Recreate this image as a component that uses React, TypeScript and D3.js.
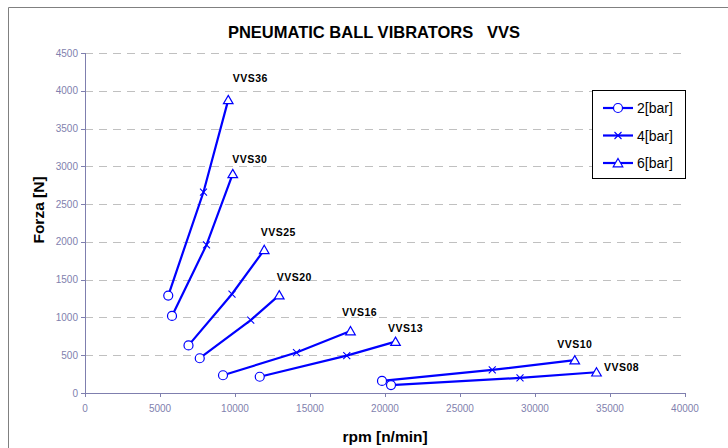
import { useEffect } from "react";
import * as d3 from "d3";

const models = ["VVS36", "VVS30", "VVS25", "VVS20", "VVS16", "VVS13", "VVS10", "VVS08"];
const rpm2 = [5550, 5800, 6900, 7650, 9200, 11650, 19800, 20400];
const force2 = [1290, 1020, 630, 460, 235, 215, 160, 105];
const rpm4 = [7900, 8100, 9800, 11050, 14100, 17450, 27150, 29000];
const force4 = [2660, 1960, 1310, 965, 535, 495, 305, 200];
const rpm6 = [9550, 9850, 11950, 12950, 17700, 20700, 32650, 34100];
const force6 = [3880, 2900, 1895, 1295, 820, 680, 435, 275];
const pressures = ["2[bar]", "4[bar]", "6[bar]"];
const xTicks = [0, 5000, 10000, 15000, 20000, 25000, 30000, 35000, 40000];
const yTicks = [0, 500, 1000, 1500, 2000, 2500, 3000, 3500, 4000, 4500];

// label nudges in pixels, relative to the 6 bar point
const labelOffsets: [number, number][] = [
  [22, -22], [17, -15], [14, -18], [15, -18], [9, -19], [10, -14], [0, -16], [25, -5],
];

const W = 728;
const H = 448;
const margin = { left: 85, right: 43, top: 53, bottom: 55 };
const BLUE = "#0000ff";
const AXIS = "#7f7fae";
const FONT = "Liberation Sans, Arial, sans-serif";

function Marker({ kind, x, y }: { kind: number; x: number; y: number }) {
  if (kind === 0) {
    return <circle cx={x} cy={y} r={4.5} fill="#fff" stroke={BLUE} strokeWidth={1.2} />;
  }
  if (kind === 1) {
    return (
      <path
        d={`M${x - 3.5},${y - 3.5}L${x + 3.5},${y + 3.5}M${x - 3.5},${y + 3.5}L${x + 3.5},${y - 3.5}`}
        stroke={BLUE}
        strokeWidth={1.1}
        fill="none"
      />
    );
  }
  return (
    <path
      d={`M${x},${y - 4.5}L${x + 4.8},${y + 3.8}L${x - 4.8},${y + 3.8}Z`}
      fill="#fff"
      stroke={BLUE}
      strokeWidth={1.2}
    />
  );
}

export default function App() {
  useEffect(() => {
    document.body.style.margin = "0";
  }, []);

  const x = d3.scaleLinear().domain([0, 40000]).range([margin.left, W - margin.right]);
  const y = d3.scaleLinear().domain([0, 4500]).range([H - margin.bottom, margin.top]);

  const series = models.map((name, i) => ({
    name,
    points: [
      [rpm2[i], force2[i]],
      [rpm4[i], force4[i]],
      [rpm6[i], force6[i]],
    ] as [number, number][],
  }));

  const line = d3
    .line<[number, number]>()
    .x((d) => x(d[0]))
    .y((d) => y(d[1]));

  const x0 = x(0);
  const x1 = x(40000);
  const yBase = y(0);

  return (
    <svg width={W} height={H} style={{ display: "block", fontFamily: FONT }}>
      <rect x={0} y={0} width={W} height={H} fill="#fff" />
      <path d={`M8.5,${H}V7.5H${W}`} fill="none" stroke="#808080" strokeWidth={1} />

      <text x={374} y={38} textAnchor="middle" fontSize={16.5} fontWeight="bold" fill="#000">
        PNEUMATIC BALL VIBRATORS{"\u00a0\u00a0\u00a0"}VVS
      </text>

      {yTicks.slice(1).map((t) => (
        <line
          key={`g${t}`}
          x1={x0}
          x2={x1}
          y1={Math.round(y(t)) + 0.5}
          y2={Math.round(y(t)) + 0.5}
          stroke="#c0c0c0"
          strokeDasharray="8 6"
        />
      ))}

      <line x1={x0 + 0.5} x2={x0 + 0.5} y1={y(4500)} y2={yBase} stroke={AXIS} />
      <line x1={x0} x2={x1} y1={yBase + 0.5} y2={yBase + 0.5} stroke={AXIS} />
      {yTicks.map((t) => (
        <g key={`y${t}`}>
          <line x1={x0 - 4} x2={x0} y1={Math.round(y(t)) + 0.5} y2={Math.round(y(t)) + 0.5} stroke={AXIS} />
          <text x={x0 - 7} y={y(t) + 3.5} textAnchor="end" fontSize={10} fill={AXIS}>
            {t}
          </text>
        </g>
      ))}
      {xTicks.map((t) => (
        <g key={`x${t}`}>
          <line x1={Math.round(x(t)) + 0.5} x2={Math.round(x(t)) + 0.5} y1={yBase} y2={yBase + 4} stroke={AXIS} />
          <text x={x(t)} y={yBase + 19} textAnchor="middle" fontSize={10} fill={AXIS}>
            {t}
          </text>
        </g>
      ))}

      <text x={385} y={442} textAnchor="middle" fontSize={15.5} fontWeight="bold" fill="#000">
        rpm [n/min]
      </text>
      <text
        transform={`translate(44,${(y(0) + y(4500)) / 2 - 13}) rotate(-90)`}
        textAnchor="middle"
        fontSize={15.5}
        fontWeight="bold"
        fill="#000"
      >
        Forza [N]
      </text>

      {series.map((s, i) => (
        <g key={s.name}>
          <path d={line(s.points) ?? ""} fill="none" stroke={BLUE} strokeWidth={2.2} />
          {s.points.map((p, k) => (
            <Marker key={k} kind={k} x={x(p[0])} y={y(p[1])} />
          ))}
          <text
            x={x(s.points[2][0]) + labelOffsets[i][0]}
            y={y(s.points[2][1]) + labelOffsets[i][1] + 4}
            textAnchor="middle"
            fontSize={10.5}
            fontWeight="bold"
            letterSpacing={0.5}
            fill="#000"
          >
            {s.name}
          </text>
        </g>
      ))}

      <rect x={592.5} y={90.5} width={93} height={88} fill="#fff" stroke="#000" strokeWidth={1} />
      {pressures.map((p, k) => {
        const ly = 108 + k * 27.5;
        return (
          <g key={p}>
            <line x1={603} x2={633} y1={ly} y2={ly} stroke={BLUE} strokeWidth={2.2} />
            <Marker kind={k} x={618} y={ly} />
            <text x={637} y={ly + 5} fontSize={14} fill="#000">
              {p}
            </text>
          </g>
        );
      })}
    </svg>
  );
}
